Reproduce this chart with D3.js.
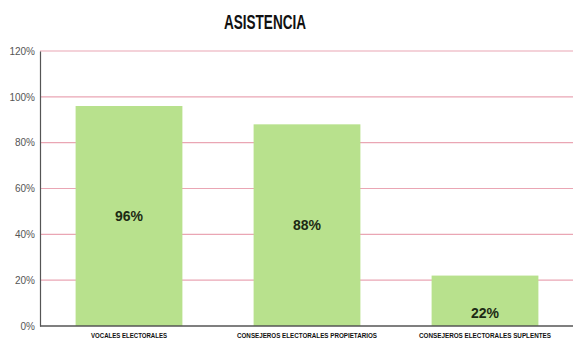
<!DOCTYPE html>
<html>
<head>
<meta charset="utf-8">
<script src="https://cdn.jsdelivr.net/npm/d3@7/dist/d3.min.js"></script>
<style>
  body { margin:0; background:#fff; }
  svg { display:block; }
</style>
</head>
<body>
<div id="chart"></div>
<script>
var categories = ["VOCALES ELECTORALES", "CONSEJEROS ELECTORALES PROPIETARIOS", "CONSEJEROS ELECTORALES SUPLENTES"];
var values = [0.96, 0.88, 0.22];
var valueLabels = ["96%", "88%", "22%"];
var yTicks = [0, 0.2, 0.4, 0.6, 0.8, 1.0, 1.2];
var catWidths = [76, 140, 132];

var width = 573, height = 361;
var margin = {left:40, top:51, right:0, bottom:35};

var svg = d3.select("#chart").append("svg")
  .attr("width", width)
  .attr("height", height);

var xScale = d3.scaleBand()
  .domain(categories)
  .range([margin.left, 574])
  .paddingInner(0.4)
  .paddingOuter(0.2);

var yScale = d3.scaleLinear()
  .domain([0, 1.2])
  .range([height - margin.bottom, margin.top]);

// title
svg.append("text")
  .attr("x", 265)
  .attr("y", 29)
  .attr("text-anchor", "middle")
  .attr("font-family", "Liberation Sans Narrow, Liberation Sans, sans-serif")
  .attr("font-weight", "bold")
  .attr("font-size", 21)
  .attr("textLength", 82)
  .attr("lengthAdjust", "spacingAndGlyphs")
  .attr("fill", "#111")
  .text("ASISTENCIA");

// gridlines
svg.append("g")
  .selectAll("line")
  .data(yTicks.filter(function(d){ return d > 0; }))
  .enter()
  .append("line")
  .attr("x1", margin.left)
  .attr("x2", width)
  .attr("y1", function(d){ return yScale(d); })
  .attr("y2", function(d){ return yScale(d); })
  .attr("stroke", "#eaa6b4")
  .attr("stroke-width", 1.2);

// y axis
var yAxis = d3.axisLeft(yScale)
  .tickValues(yTicks)
  .tickSize(0)
  .tickPadding(5)
  .tickFormat(d3.format(".0%"));

var yg = svg.append("g")
  .attr("transform", "translate(" + margin.left + ",0)")
  .call(yAxis);
yg.select(".domain").attr("stroke", "#555").attr("stroke-width", 1.2);
yg.selectAll("text")
  .attr("font-family", "Liberation Sans Narrow, Liberation Sans, sans-serif")
  .attr("font-size", 10)
  .attr("fill", "#555");

// bars
svg.append("g")
  .selectAll("rect")
  .data(values)
  .enter()
  .append("rect")
  .attr("x", function(d, i){ return xScale(categories[i]); })
  .attr("y", function(d){ return yScale(d); })
  .attr("width", xScale.bandwidth())
  .attr("height", function(d){ return yScale(0) - yScale(d); })
  .attr("fill", "#b8e18d");

// value labels: centred in the bar, pushed down for short bars
svg.append("g")
  .selectAll("text")
  .data(values)
  .enter()
  .append("text")
  .attr("x", function(d, i){ return xScale(categories[i]) + xScale.bandwidth() / 2; })
  .attr("y", function(d){
    var h = yScale(0) - yScale(d);
    var cy = h < 80 ? yScale(0) - 13 : (yScale(d) + yScale(0)) / 2;
    return cy + 5;
  })
  .attr("text-anchor", "middle")
  .attr("font-family", "Liberation Sans Narrow, Liberation Sans, sans-serif")
  .attr("font-weight", "bold")
  .attr("font-size", 14)
  .attr("fill", "#1c2a14")
  .text(function(d, i){ return valueLabels[i]; });

// x axis line
svg.append("line")
  .attr("x1", margin.left)
  .attr("x2", width)
  .attr("y1", yScale(0))
  .attr("y2", yScale(0))
  .attr("stroke", "#555")
  .attr("stroke-width", 1.5);

// category labels
svg.append("g")
  .selectAll("text")
  .data(categories)
  .enter()
  .append("text")
  .attr("x", function(d){ return xScale(d) + xScale.bandwidth() / 2; })
  .attr("y", yScale(0) + 12)
  .attr("text-anchor", "middle")
  .attr("font-family", "Liberation Sans Narrow, Liberation Sans, sans-serif")
  .attr("font-weight", "bold")
  .attr("font-size", 7)
  .attr("textLength", function(d, i){ return catWidths[i]; })
  .attr("lengthAdjust", "spacingAndGlyphs")
  .attr("fill", "#111")
  .text(function(d){ return d; });
</script>
</body>
</html>
